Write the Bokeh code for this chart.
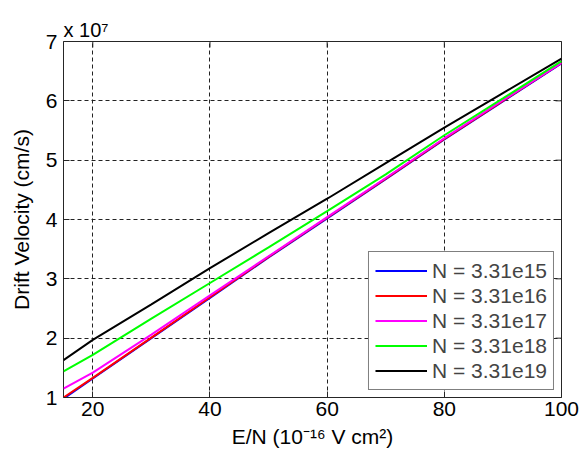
from bokeh.plotting import figure
from bokeh.models import Range1d, FixedTicker, Legend, LegendItem
from bokeh.embed import file_html
from bokeh.resources import INLINE

# E/N in units of 1e-16 V cm^2
en = [15, 20, 30, 40, 50, 60, 70, 80, 90, 100]
# Drift velocity in units of 1e7 cm/s
v_3_31e15 = [0.98, 1.32, 2.00, 2.68, 3.36, 4.02, 4.68, 5.35, 5.99, 6.63]
v_3_31e16 = [1.00, 1.33, 2.01, 2.69, 3.37, 4.03, 4.69, 5.36, 6.00, 6.64]
v_3_31e17 = [1.15, 1.42, 2.06, 2.72, 3.38, 4.04, 4.70, 5.37, 6.01, 6.64]
v_3_31e18 = [1.44, 1.72, 2.33, 2.93, 3.53, 4.14, 4.76, 5.42, 6.04, 6.67]
v_3_31e19 = [1.63, 1.97, 2.57, 3.18, 3.77, 4.35, 4.95, 5.55, 6.13, 6.71]

series_names = ["N = 3.31e15", "N = 3.31e16", "N = 3.31e17", "N = 3.31e18", "N = 3.31e19"]
series_vals = [v_3_31e15, v_3_31e16, v_3_31e17, v_3_31e18, v_3_31e19]
series_colors = ["#0000ff", "#ff0000", "#ff00ff", "#00ff00", "#000000"]

x_ticks = [20, 40, 60, 80, 100]
y_ticks = [1, 2, 3, 4, 5, 6, 7]
x_min, x_max = 15, 100
y_min, y_max = 1, 7

FONT = "Liberation Sans"
FS = "21px"
AXC = "#262626"

p = figure(width=583, height=455, output_backend="svg", toolbar_location=None,
           x_range=Range1d(x_min, x_max), y_range=Range1d(y_min, y_max),
           min_border_left=63, min_border_right=22, min_border_top=41, min_border_bottom=58)

p.background_fill_color = "white"
p.border_fill_color = "white"
p.outline_line_color = AXC
p.outline_line_width = 1

for ax, tk in ((p.xaxis[0], x_ticks), (p.yaxis[0], y_ticks)):
    ax.ticker = FixedTicker(ticks=tk)
    ax.major_tick_in = 6
    ax.major_tick_out = 0
    ax.minor_tick_line_color = None
    ax.axis_line_color = None
    ax.major_tick_line_color = AXC
    ax.major_label_text_font = FONT
    ax.major_label_text_font_size = FS
    ax.major_label_text_color = "black"
    ax.axis_label_text_font = FONT
    ax.axis_label_text_font_size = FS
    ax.axis_label_text_font_style = "normal"
    ax.axis_label_text_color = "black"

p.xaxis.major_label_standoff = 4
p.yaxis.major_label_standoff = 6
p.xaxis.axis_label = "E/N (10\u207b\u00b9\u2076 V cm\u00b2)"
p.xaxis.axis_label_standoff = 6
p.yaxis.axis_label = "Drift Velocity (cm/s)"
p.yaxis.axis_label_standoff = 10

for g in (p.xgrid[0], p.ygrid[0]):
    g.grid_line_color = "#222222"
    g.grid_line_dash = "4 3"
    g.grid_line_width = 1
p.xgrid.ticker = FixedTicker(ticks=x_ticks)
p.ygrid.ticker = FixedTicker(ticks=y_ticks)

# tick marks on the top and right edges of the box (half of each marker is clipped away)
p.scatter(x_ticks, [y_max] * len(x_ticks), marker="dash", size=12, angle=1.5708,
          line_color=AXC, line_width=1)
p.scatter([x_max] * len(y_ticks), y_ticks, marker="dash", size=12,
          line_color=AXC, line_width=1)

items = []
for name, vals, col in zip(series_names, series_vals, series_colors):
    r = p.line(en, vals, line_color=col, line_width=2)
    items.append(LegendItem(label=name, renderers=[r]))

legend = Legend(items=items, location="bottom_right")
legend.label_text_font = FONT
legend.label_text_font_size = FS
legend.label_height = 25
legend.glyph_height = 25
legend.glyph_width = 52
legend.label_standoff = 5
legend.spacing = 0
legend.padding = 6
legend.margin = 7
legend.border_line_color = "black"
legend.border_line_width = 1
legend.background_fill_alpha = 1
p.add_layout(legend)

# exponent marker above the axis
p.title.text = "x 10\u2077"
p.title.align = "left"
p.title.offset = 0
p.title.standoff = 2
p.title.text_font = FONT
p.title.text_font_size = "20px"
p.title.text_font_style = "normal"
p.title.text_color = "black"

open("out.html", "w").write(file_html(p, INLINE))
